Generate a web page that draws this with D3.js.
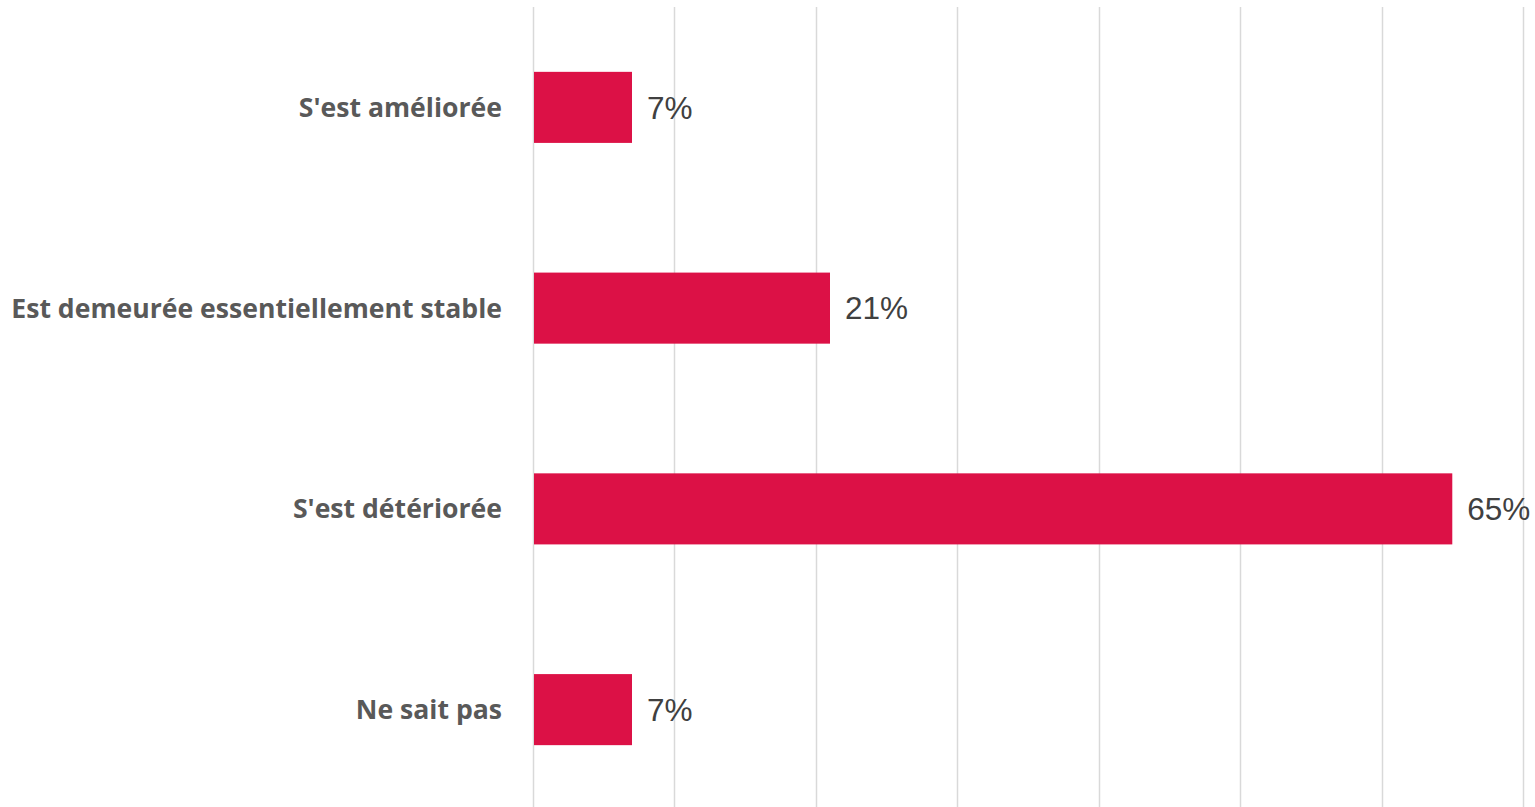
<!DOCTYPE html>
<html><head><meta charset="utf-8">
<script src="https://cdn.jsdelivr.net/npm/d3@7"></script>
<style>body{margin:0;background:#fff;}svg{display:block;}</style>
</head><body>
<svg id="chart" width="1535" height="807"></svg>
<script>
const categories = ["S'est améliorée", "Est demeurée essentiellement stable", "S'est détériorée", "Ne sait pas"];
const values = [7, 21, 65, 7];
const ticks = [0, 10, 20, 30, 40, 50, 60, 70];

const svg = d3.select("#chart");
const x = d3.scaleLinear().domain([0, 70]).range([533, 1523]);
const y = d3.scaleBand().domain(categories).range([7, 810]).paddingInner(0.646).paddingOuter(0.323);

svg.append("g").selectAll("line").data(ticks).join("line")
  .attr("x1", d => Math.round(x(d)) + 0.5).attr("x2", d => Math.round(x(d)) + 0.5)
  .attr("y1", 7).attr("y2", 807)
  .attr("stroke", "#d9d9d9").attr("stroke-width", 1.5);

svg.append("g").selectAll("rect").data(values).join("rect")
  .attr("x", x(0) + 1).attr("y", (d, i) => y(categories[i]))
  .attr("width", d => x(d) - x(0) - 1).attr("height", y.bandwidth())
  .attr("fill", "#dc1146");

svg.append("g").selectAll("text").data(values).join("text")
  .attr("x", d => x(d) + 15).attr("y", (d, i) => y(categories[i]) + y.bandwidth() / 2)
  .attr("dy", "0.36em")
  .attr("font-family", "'Liberation Sans', Arial, sans-serif").attr("font-size", 31.5)
  .attr("fill", "#404040").text(d => d + "%");

svg.append("g").selectAll("text").data(categories).join("text")
  .attr("x", 502).attr("y", d => y(d) + y.bandwidth() / 2)
  .attr("dy", "0.36em").attr("text-anchor", "end")
  .attr("font-family", "'Open Sans', sans-serif").attr("font-weight", "bold").attr("font-size", 26.6)
  .attr("fill", "#595959").text(d => d);
</script>
</body></html>
